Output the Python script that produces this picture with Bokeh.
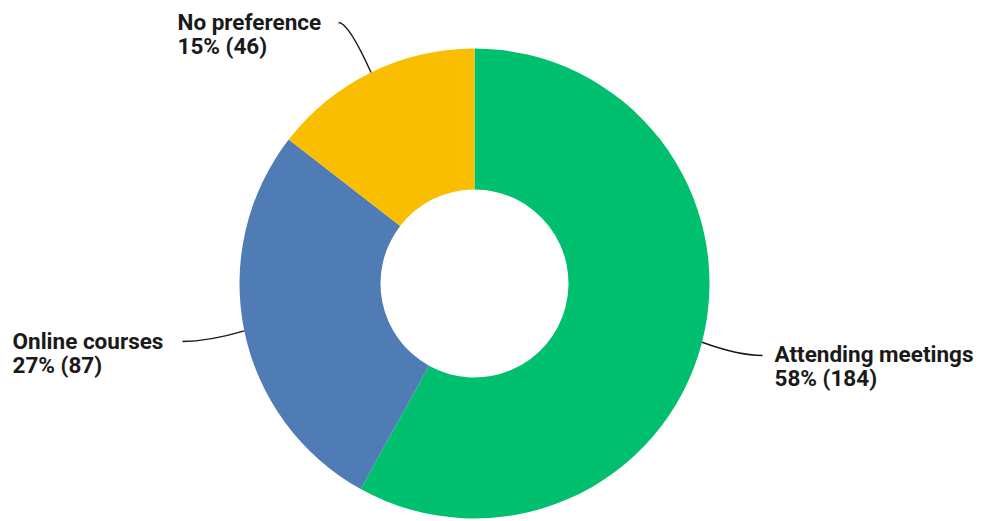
import math
from bokeh.plotting import figure
from bokeh.models import Range1d
from bokeh.core.properties import value
from bokeh.embed import file_html
from bokeh.resources import INLINE

# ---- data ----
categories = ["Attending meetings", "Online courses", "No preference"]
counts = [184, 87, 46]
colors = ["#00BF6F", "#507CB6", "#F9BE00"]

# ---- layout (reference pixel coordinates) ----
W, H = 984, 521
cx_px, cy_px = 474, 283
outer_r, inner_r = 235, 94
label_pos = [(774, 353), (12, 340), (177, 21)]      # x, first line position
leader_end = [(762, 355), (182, 341), (338, 22)]
leader_ctrl = [(738, 355), (208, 341), (348, 22)]
line_step = 24

def Y(y):
    return H - y

p = figure(width=W, height=H, output_backend="svg", toolbar_location=None,
           x_range=Range1d(0, W), y_range=Range1d(0, H),
           min_border=0)
p.axis.visible = False
p.grid.visible = False
p.outline_line_color = None
p.background_fill_color = "white"
p.border_fill_color = "white"

total = sum(counts)
start = math.pi / 2
starts, ends, mids = [], [], []
for c in counts:
    sweep = 2 * math.pi * c / total
    starts.append(start)
    ends.append(start - sweep)
    mids.append(start - sweep / 2)
    start -= sweep

p.annular_wedge(x=[cx_px] * 3, y=[Y(cy_px)] * 3,
                inner_radius=inner_r, outer_radius=outer_r,
                inner_radius_units="screen", outer_radius_units="screen",
                start_angle=starts, end_angle=ends, direction="clock",
                fill_color=colors, line_color=None)

font = value("Roboto")
for i, (cat, cnt) in enumerate(zip(categories, counts)):
    a = mids[i]
    sx = cx_px + outer_r * math.cos(a)
    sy = cy_px - outer_r * math.sin(a)
    ex, ey = leader_end[i]
    qx, qy = leader_ctrl[i]
    p.quadratic(x0=[sx], y0=[Y(sy)], x1=[ex], y1=[Y(ey)], cx=[qx], cy=[Y(qy)],
                line_color="#1a1a1a", line_width=1.4)
    lx, ly = label_pos[i]
    pct = round(100 * cnt / total)
    p.text(x=[lx], y=[Y(ly)], text=[cat], text_font=font, text_font_size="22.5px",
           text_font_style="bold", text_color="#1a1a1a", text_baseline="alphabetic")
    p.text(x=[lx], y=[Y(ly + line_step)], text=[f"{pct}% ({cnt})"], text_font=font,
           text_font_size="22.5px", text_font_style="bold", text_color="#1a1a1a",
           text_baseline="alphabetic")

open("out.html", "w").write(file_html(p, INLINE))
